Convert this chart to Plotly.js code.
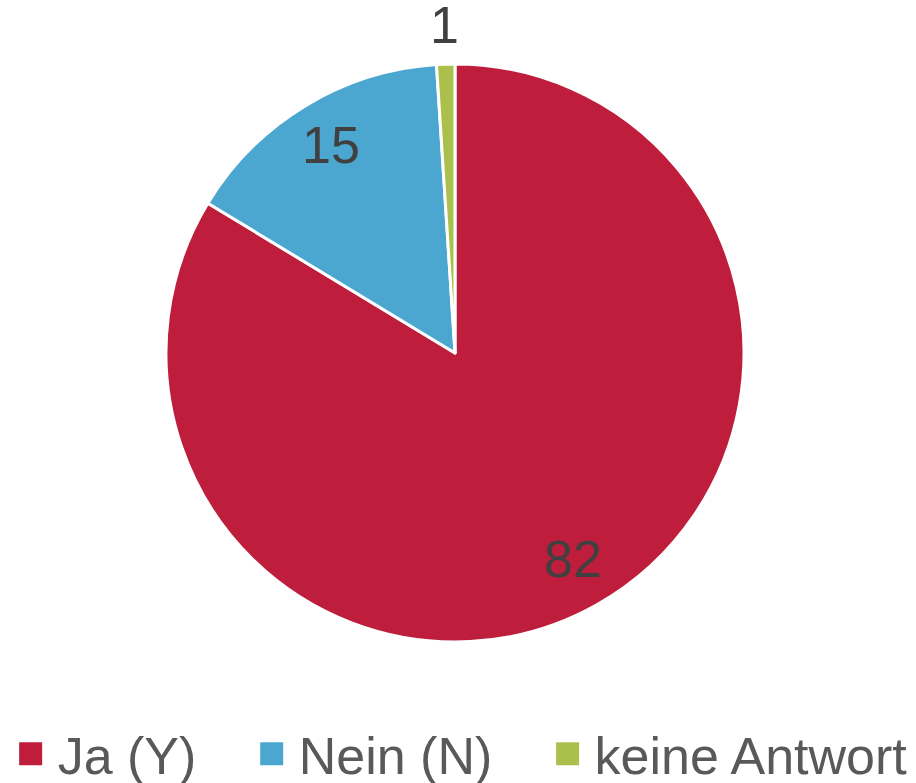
<!DOCTYPE html>
<html>
<head>
<meta charset="utf-8">
<script src="https://cdn.plot.ly/plotly-3.0.1.min.js"></script>
<style>html,body{margin:0;padding:0;background:#fff;}#chart{width:916px;height:783px;}</style>
</head>
<body>
<div id="chart"></div>
<script>
const labels = ["Ja (Y)", "Nein (N)", "keine Antwort"];
const values = [82, 15, 1];
const colors = ["#BE1E3C", "#4BA7CF", "#ABC04B"];
const labelPlacement = ["inside", "inside", "outside"];

// legend names padded with non-breaking spaces to widen the gap between entries
const legendNames = labels.map(function(l, i){ return i < labels.length - 1 ? l + "\u00a0\u00a0\u00a0" : l; });

const W = 916, H = 783;
const pieDomain = {x: [166 / W, 744 / W], y: [0, 1]};

const trace = {
  type: "pie",
  labels: legendNames,
  values: values,
  sort: false,
  direction: "clockwise",
  rotation: 0,
  domain: pieDomain,
  marker: {colors: colors, line: {color: "#FFFFFF", width: 3}},
  textinfo: "none",
  hoverinfo: "label+value",
  automargin: false
};

// label annotations positioned along each slice's mid angle (Excel-like best fit)
const total = values.reduce(function(a, b){ return a + b; }, 0);
const cx = (pieDomain.x[0] + pieDomain.x[1]) / 2, cy = (pieDomain.y[0] + pieDomain.y[1]) / 2;
const rx = (pieDomain.x[1] - pieDomain.x[0]) / 2, ry = (pieDomain.y[1] - pieDomain.y[0]) / 2;
const annotations = [];
let cum = 0;
values.forEach(function(v, i){
  const mid = (cum + v / 2) / total * 2 * Math.PI;
  cum += v;
  const f = labelPlacement[i] === "inside" ? 0.83 : 1.125;
  annotations.push({
    xref: "paper", yref: "paper",
    x: cx + rx * f * Math.sin(mid),
    y: cy + ry * f * Math.cos(mid) + 0.005,
    text: String(v),
    showarrow: false,
    xanchor: "center", yanchor: "middle",
    font: {family: "Liberation Sans, Arial, sans-serif", size: 52, color: "#404040"}
  });
});

const layout = {
  width: W,
  height: H,
  margin: {l: 0, r: 0, t: 64, b: 141, autoexpand: false},
  paper_bgcolor: "#FFFFFF",
  showlegend: true,
  legend: {
    orientation: "h",
    xref: "paper", yref: "container",
    x: 0.004, xanchor: "left",
    y: 0.037, yanchor: "middle",
    itemwidth: 44,
    font: {family: "Liberation Sans, Arial, sans-serif", size: 52, color: "#595959"},
    itemclick: false
  },
  annotations: annotations,
  font: {family: "Liberation Sans, Arial, sans-serif"}
};

Plotly.newPlot("chart", [trace], layout, {displayModeBar: false, staticPlot: true}).then(function(){
  document.querySelectorAll("#chart .legendpoints path").forEach(function(p){
    p.setAttribute("d", "M13,13H-13V-13H13Z");
  });
});
</script>
</body>
</html>
